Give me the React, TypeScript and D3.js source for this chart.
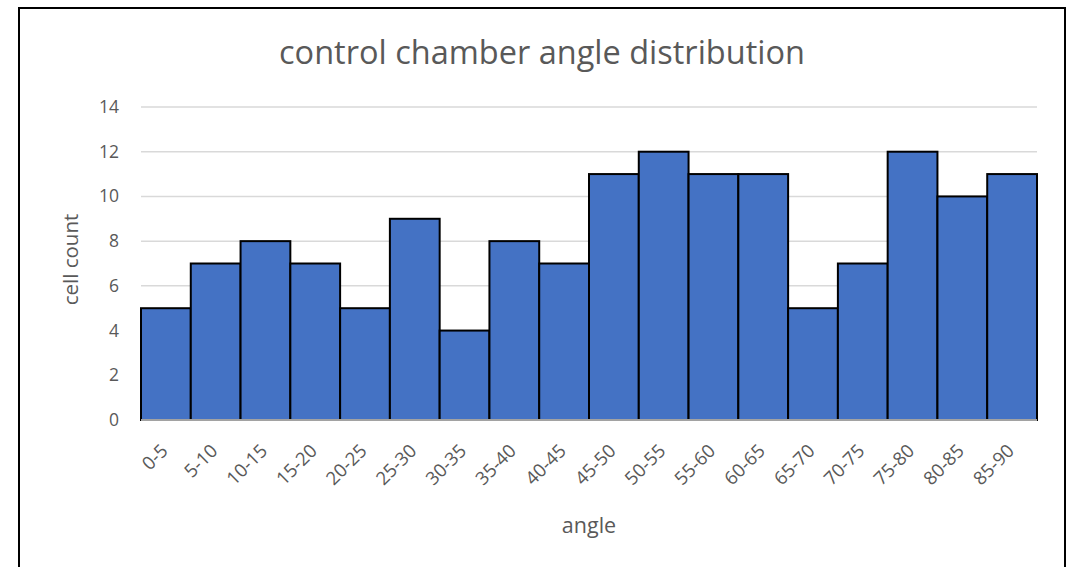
import React from "react";
import * as d3 from "d3";

const categories = ["0-5","5-10","10-15","15-20","20-25","25-30","30-35","35-40","40-45","45-50","50-55","55-60","60-65","65-70","70-75","75-80","80-85","85-90"];
const counts = [5,7,8,7,5,9,4,8,7,11,12,11,11,5,7,12,10,11];
const yTicks = [0,2,4,6,8,10,12,14];

const W = 1076, H = 567;
const left = 141, right = 1037, top = 107, bottom = 420;
const font = "'Open Sans', 'Noto Sans', sans-serif";
const textColor = "#595959";

export default function App() {
  const x = d3.scaleBand<string>().domain(categories).range([left, right]).padding(0);
  const y = d3.scaleLinear().domain([0, 14]).range([bottom, top]);
  return (
    <svg width={W} height={H} style={{ position: "absolute", left: 0, top: 0, background: "#fff" }}>
      <rect x={0} y={0} width={W} height={H} fill="#fff" />
      <rect x={19} y={8} width={1046} height={H} fill="none" stroke="#000" strokeWidth={2} />
      <text x={542} y={64} textAnchor="middle" fontFamily={font} fontSize={32.5} fill={textColor}>
        control chamber angle distribution
      </text>
      {yTicks.map((t) => (
        <g key={t}>
          {t > 0 && <line x1={left} x2={right} y1={y(t)} y2={y(t)} stroke="#d9d9d9" strokeWidth={1.5} />}
          <text x={119} y={y(t) + 6} textAnchor="end" fontFamily={font} fontSize={17.5} fill={textColor}>{t}</text>
        </g>
      ))}
      {categories.map((c, i) => (
        <rect key={c} x={x(c)!} y={y(counts[i])} width={x.bandwidth()} height={y(0) - y(counts[i])}
          fill="#4472C4" stroke="#000" strokeWidth={2} />
      ))}
      <line x1={left} x2={right} y1={y(0)} y2={y(0)} stroke="#d9d9d9" strokeWidth={1.5} />
      {categories.map((c) => {
        const cx = x(c)! + x.bandwidth() / 2 + 3;
        const cy = 452;
        return (
          <text key={c} x={cx} y={cy} textAnchor="end" fontFamily={font} fontSize={18.5} fill={textColor}
            transform={`rotate(-45 ${cx} ${cy})`}>{c}</text>
        );
      })}
      <text x={589} y={533} textAnchor="middle" fontFamily={font} fontSize={21.5} fill={textColor}>angle</text>
      <text x={0} y={0} textAnchor="middle" fontFamily={font} fontSize={20.5} fill={textColor}
        transform={`translate(78 ${259.5}) rotate(-90)`}>cell count</text>
    </svg>
  );
}
